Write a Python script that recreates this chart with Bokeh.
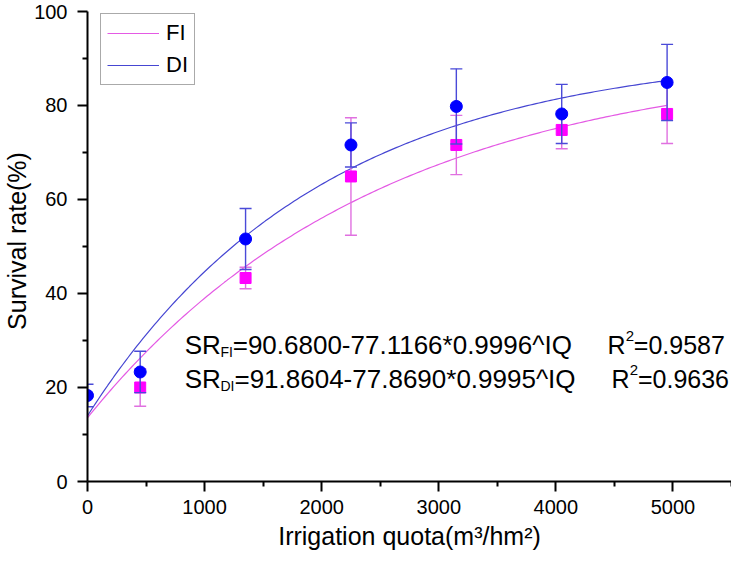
import numpy as np
from bokeh.plotting import figure
from bokeh.models import FixedTicker, Legend, LegendItem, Range1d, ColumnDataSource, Label, Title
from bokeh.embed import file_html
from bokeh.resources import INLINE

# ---- data ----
iq_fi = [450, 1350, 2250, 3150, 4050, 4950]
sr_fi = [20.0, 43.3, 64.9, 71.6, 74.8, 78.2]
sd_fi = [4.0, 2.3, 12.5, 6.3, 4.0, 6.3]

iq_di = [0, 450, 1350, 2250, 3150, 4050, 4950]
sr_di = [18.3, 23.3, 51.6, 71.6, 79.8, 78.2, 84.9]
sd_di = [2.4, 4.4, 6.5, 4.7, 8.0, 6.3, 8.1]

# fitted model coefficients printed on the chart: SR = a - b * c^IQ
fit_fi = (90.6800, 77.1166, 0.9996)
fit_di = (91.8604, 77.8690, 0.9995)
fit_end = 4950

x_ticks = [0, 1000, 2000, 3000, 4000, 5000]
x_minor = [500, 1500, 2500, 3500, 4500, 5500]
y_ticks = [0, 20, 40, 60, 80, 100]
y_minor = [10, 30, 50, 70, 90]

x_title = "Irrigation quota(m³/hm²)"
y_title = "Survival rate(%)"
eq_fi = ["SR", "FI", "=90.6800-77.1166*0.9996^IQ", "R", "2", "=0.9587"]
eq_di = ["SR", "DI", "=91.8604-77.8690*0.9995^IQ", "R", "2", "=0.9636"]

FONT = "Liberation Sans"
C_FI_LINE = "#e45ae4"
C_DI_LINE = "#4646d2"
C_FI_MARK = "#ff00ff"
C_DI_MARK = "#0000ff"
C_FI_ERR = "#e070e0"
C_DI_ERR = "#4a4ad8"

p = figure(frame_width=644, frame_height=481, x_range=Range1d(0, 5500), y_range=Range1d(0, 102.34),
           output_backend="svg", toolbar_location=None,
           min_border_left=80, min_border_right=0, min_border_top=0, min_border_bottom=0)
p.outline_line_color = None
p.grid.visible = False
p.background_fill_color = "white"
p.border_fill_color = "white"

# fitted curves
xs = np.linspace(0, fit_end, 200)
def model(c, x):
    a, b, r = c
    return a - b * np.power(r, x)

r_fi = p.line(xs, model(fit_fi, xs), line_color=C_FI_LINE, line_width=1.2)
r_di = p.line(xs, model(fit_di, xs), line_color=C_DI_LINE, line_width=1.2)

def errbars(x, y, sd, color, width):
    y = np.array(y); sd = np.array(sd)
    src = ColumnDataSource(dict(x=x, lo=y - sd, hi=y + sd))
    p.segment(x0="x", y0="lo", x1="x", y1="hi", source=src, line_color=color, line_width=width)
    p.scatter(x="x", y="lo", source=src, marker="dash", size=12, line_color=color, line_width=width)
    p.scatter(x="x", y="hi", source=src, marker="dash", size=12, line_color=color, line_width=width)

errbars(iq_fi, sr_fi, sd_fi, C_FI_ERR, 1.4)
p.scatter(iq_fi, sr_fi, marker="square", size=11, fill_color=C_FI_MARK, line_color=C_FI_MARK)
errbars(iq_di, sr_di, sd_di, C_DI_ERR, 1.4)
p.scatter(iq_di, sr_di, marker="circle", size=12, fill_color=C_DI_MARK, line_color=C_DI_MARK)

# axes
for ax in (p.xaxis[0], p.yaxis[0]):
    ax.axis_line_width = 2
    ax.axis_line_color = "black"
    ax.major_tick_line_width = 2
    ax.minor_tick_line_width = 2
    ax.major_tick_line_color = "black"
    ax.minor_tick_line_color = "black"
    ax.major_tick_in = 0
    ax.major_tick_out = 10
    ax.minor_tick_in = 0
    ax.minor_tick_out = 5
    ax.major_label_text_font = FONT
    ax.major_label_text_font_size = "20px"
    ax.major_label_text_color = "black"
    ax.axis_label_text_font = FONT
    ax.axis_label_text_font_size = "25px"
    ax.axis_label_text_font_style = "normal"
    ax.axis_label_text_color = "black"

p.xaxis.ticker = FixedTicker(ticks=x_ticks, minor_ticks=x_minor)
p.yaxis.ticker = FixedTicker(ticks=y_ticks, minor_ticks=y_minor)
p.yaxis.bounds = (0, 100)
p.yaxis.axis_label = y_title
p.xaxis.major_label_standoff = 8
p.yaxis.major_label_standoff = 10
p.yaxis.axis_label_standoff = 0

# x-axis title as a below title
xt = Title(text=x_title, align="center", text_font=FONT, text_font_size="25px",
           text_font_style="normal", text_color="black", standoff=6, offset=0)
p.add_layout(xt, "below")

# legend
legend = Legend(items=[LegendItem(label="FI", renderers=[r_fi]),
                       LegendItem(label="DI", renderers=[r_di])],
                location="top_left")
legend.margin = 13
legend.padding = 6
legend.spacing = 6
legend.glyph_width = 52
legend.glyph_height = 22
legend.label_height = 22
legend.label_standoff = 7
legend.label_text_font = FONT
legend.label_text_font_size = "22px"
legend.label_text_color = "black"
legend.border_line_color = "#555555"
legend.border_line_width = 1
legend.background_fill_alpha = 1
p.add_layout(legend)

# equation annotations (data coordinates)
def put(txt, x, y, size):
    p.add_layout(Label(x=x, y=y, text=txt, text_font=FONT, text_font_size=size,
                       text_color="black", text_baseline="alphabetic", text_align="left"))

def eq_line(parts, y, x_sr, x_sub, x_eq, x_r, x_sup, x_val):
    put(parts[0], x_sr, y, "26px")
    put(parts[1], x_sub, y - 1.6, "14px")
    put(parts[2], x_eq, y, "26px")
    put(parts[3], x_r, y, "25px")
    put(parts[4], x_sup, y + 1.9, "15px")
    put(parts[5], x_val, y, "25px")

eq_line(eq_fi, 29.1, 830, 1135, 1240, 4440, 4596, 4666)
eq_line(eq_di, 21.9, 830, 1135, 1255, 4475, 4631, 4701)

open("out.html", "w").write(file_html(p, INLINE))
